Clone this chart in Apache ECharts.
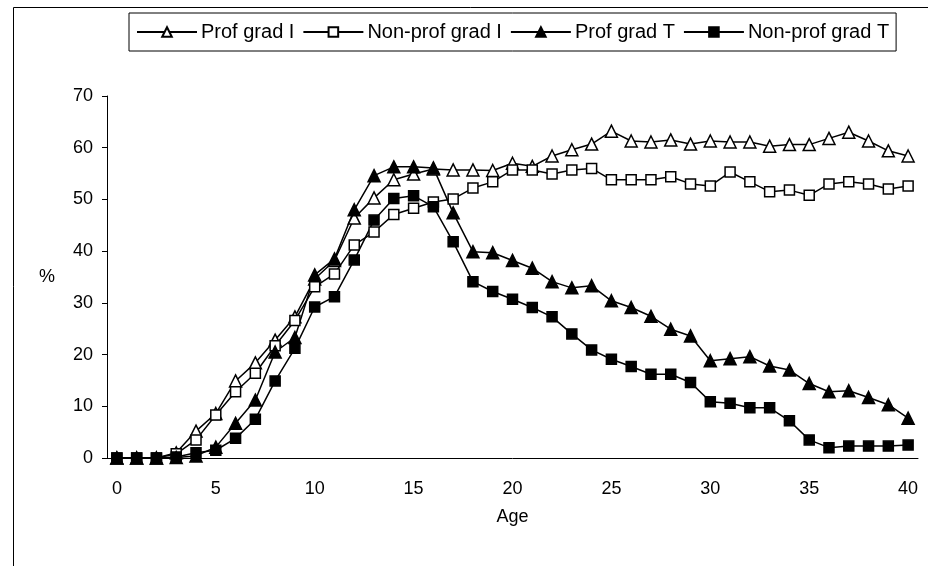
<!DOCTYPE html>
<html>
<head>
<meta charset="utf-8">
<script src="https://cdn.jsdelivr.net/npm/echarts@6/dist/echarts.min.js"></script>
<style>
  html, body { margin: 0; padding: 0; background: #fff; }
  #chart { width: 928px; height: 566px; }
</style>
</head>
<body>
<div id="chart"></div>
<script>
// ages 0..40
const ages = ['0','1','2','3','4','5','6','7','8','9','10','11','12','13','14','15','16','17','18','19','20',
              '21','22','23','24','25','26','27','28','29','30','31','32','33','34','35','36','37','38','39','40'];

const profGradI = [0, 0, 0, 1.0, 5.2, 8.6, 14.9, 18.4, 22.8, 27.3, 34.6, 38.2, 46.4, 50.3, 53.8, 54.9, 55.9,
  55.7, 55.7, 55.6, 57.0, 56.4, 58.4, 59.6, 60.7, 63.2, 61.3, 61.1, 61.5, 60.7, 61.3, 61.1, 61.1, 60.3,
  60.6, 60.6, 61.8, 63.0, 61.3, 59.4, 58.4];
const nonProfGradI = [0, 0, 0, 0.8, 3.5, 8.3, 12.8, 16.4, 21.7, 26.6, 33.1, 35.6, 41.2, 43.7, 47.1, 48.3, 49.5,
  50.1, 52.2, 53.4, 55.7, 55.7, 54.9, 55.7, 56.0, 53.8, 53.8, 53.8, 54.4, 53.0, 52.6, 55.3, 53.4, 51.5,
  51.8, 50.8, 53.0, 53.4, 53.0, 52.0, 52.6];
const profGradT = [0, 0, 0, 0.1, 0.4, 2.1, 6.7, 11.2, 20.5, 23.3, 35.4, 38.5, 48.0, 54.6, 56.3, 56.3, 56.1,
  47.4, 39.9, 39.7, 38.2, 36.7, 34.1, 32.9, 33.3, 30.4, 29.1, 27.4, 24.9, 23.6, 18.8, 19.2, 19.6, 17.8,
  17.0, 14.4, 12.8, 13.0, 11.7, 10.3, 7.7];
const nonProfGradT = [0, 0, 0, 0.2, 1.0, 1.5, 3.8, 7.5, 14.9, 21.2, 29.2, 31.2, 38.3, 46.0, 50.2, 50.7, 48.6,
  41.8, 34.1, 32.2, 30.7, 29.1, 27.3, 24.0, 20.9, 19.1, 17.7, 16.2, 16.2, 14.6, 10.9, 10.6, 9.7, 9.7,
  7.2, 3.5, 2.0, 2.3, 2.3, 2.3, 2.5];

const seriesNames = ['Prof grad I', 'Non-prof grad I', 'Prof grad T', 'Non-prof grad T'];
const yTicks = [0, 10, 20, 30, 40, 50, 60, 70];

const font = 'Liberation Sans, Arial, sans-serif';

function makeSeries(name, data, symbol, filled, size) {
  return {
    name: name,
    type: 'line',
    data: data,
    symbol: symbol,
    symbolSize: size,
    showAllSymbol: true,
    lineStyle: { color: '#000', width: 1.5 },
    itemStyle: { color: filled ? '#000' : '#fff', borderColor: '#000', borderWidth: 1.5 },
    emphasis: { disabled: true },
    animation: false
  };
}

const chart = echarts.init(document.getElementById('chart'));
chart.setOption({
  backgroundColor: '#fff',
  animation: false,
  textStyle: { fontFamily: font },
  graphic: [{
    type: 'polyline',
    shape: { points: [[13.5, 566], [13.5, 7.5], [928, 7.5]] },
    style: { stroke: '#000', lineWidth: 1, fill: null }
  }],
  legend: {
    data: seriesNames,
    left: 129,
    top: 13,
    padding: [9, 7, 9, 7],
    itemWidth: 60,
    itemHeight: 12,
    itemGap: 8,
    borderColor: '#000',
    borderWidth: 1,
    textStyle: { fontFamily: font, fontSize: 20, color: '#000', padding: [0, 0, 0, -1] }
  },
  grid: { left: 107, right: 10, top: 96, bottom: 108 },
  xAxis: {
    type: 'category',
    data: ages,
    boundaryGap: true,
    name: 'Age',
    nameLocation: 'middle',
    nameGap: 50,
    nameTextStyle: { fontFamily: font, fontSize: 18, color: '#000' },
    axisLine: { lineStyle: { color: '#000', width: 1 } },
    axisTick: { interval: 0, length: 6, lineStyle: { color: '#000' } },
    axisLabel: { interval: 4, margin: 22, fontFamily: font, fontSize: 18, color: '#000' },
    splitLine: { show: false }
  },
  yAxis: {
    type: 'value',
    min: yTicks[0],
    max: yTicks[yTicks.length - 1],
    interval: 10,
    name: '%',
    nameLocation: 'middle',
    nameRotate: 0,
    nameGap: 52,
    nameTextStyle: { fontFamily: font, fontSize: 18, color: '#000' },
    axisLine: { show: true, lineStyle: { color: '#000', width: 1 } },
    axisTick: { show: true, length: 5, lineStyle: { color: '#000' } },
    axisLabel: { margin: 14, fontFamily: font, fontSize: 18, color: '#000' },
    splitLine: { show: false }
  },
  series: [
    makeSeries(seriesNames[0], profGradI, 'triangle', false, 12),
    makeSeries(seriesNames[1], nonProfGradI, 'rect', false, 10),
    makeSeries(seriesNames[2], profGradT, 'triangle', true, 12),
    makeSeries(seriesNames[3], nonProfGradT, 'rect', true, 10)
  ]
});
</script>
</body>
</html>
